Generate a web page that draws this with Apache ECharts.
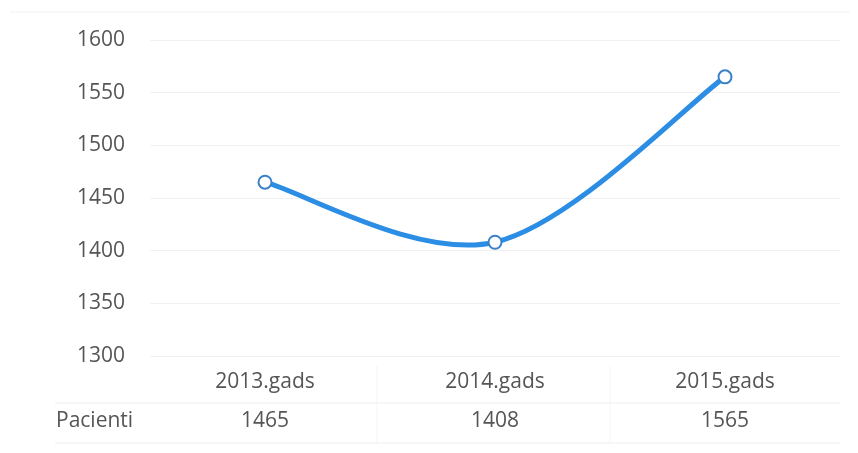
<!DOCTYPE html>
<html>
<head>
<meta charset="utf-8">
<script src="https://cdn.jsdelivr.net/npm/echarts@6/dist/echarts.min.js"></script>
<style>
  html, body { margin: 0; padding: 0; background: #ffffff; }
  #chart { width: 858px; height: 453px; }
</style>
</head>
<body>
<div id="chart"></div>
<script>
// Patient counts per year
const years = ['2013.gads', '2014.gads', '2015.gads'];
const patients = [1465, 1408, 1565];
const rowLabel = 'Pacienti';
const yTicks = [1300, 1350, 1400, 1450, 1500, 1550, 1600];

const FONT = '"Open Sans", Lato, sans-serif';
const FS = 21;
const TEXT = '#555555';
const LINE = '#2b8de3';
const RULE = '#eeeeee';

// Catmull-Rom style smoothing between neighbouring points (in pixel space)
function smoothSegment(api, i) {
  const n = patients.length;
  if (i >= n - 1) return null;
  const p = k => {
    const j = Math.min(Math.max(k, 0), n - 1);
    return api.coord([j, patients[j]]);
  };
  const p0 = p(i - 1), p1 = p(i), p2 = p(i + 1), p3 = p(i + 2);
  const t = 1 / 6;
  return {
    type: 'bezierCurve',
    shape: {
      x1: p1[0], y1: p1[1],
      x2: p2[0], y2: p2[1],
      cpx1: p1[0] + (p2[0] - p0[0]) * t,
      cpy1: p1[1] + (p2[1] - p0[1]) * t,
      cpx2: p2[0] - (p3[0] - p1[0]) * t,
      cpy2: p2[1] - (p3[1] - p1[1]) * t
    },
    style: { stroke: LINE, lineWidth: 5, fill: null, lineCap: 'round' }
  };
}

const chart = echarts.init(document.getElementById('chart'), null, { renderer: 'canvas' });

chart.setOption({
  backgroundColor: '#ffffff',
  animation: false,
  grid: { left: 150, right: 18, top: 40, bottom: 97 },
  xAxis: [
    {
      type: 'category',
      data: years,
      boundaryGap: true,
      axisLine: { show: false },
      axisTick: { show: false },
      axisLabel: { color: TEXT, fontFamily: FONT, fontSize: FS, margin: 16 }
    },
    {
      // data-table row underneath the category names
      type: 'category',
      position: 'bottom',
      offset: 40,
      data: patients.map(String),
      boundaryGap: true,
      axisLine: { show: false },
      axisTick: { show: false },
      axisLabel: { color: TEXT, fontFamily: FONT, fontSize: FS, margin: 15 }
    }
  ],
  yAxis: {
    type: 'value',
    min: yTicks[0],
    max: yTicks[yTicks.length - 1],
    interval: 50,
    axisLine: { show: false },
    axisTick: { show: false },
    axisLabel: {
      color: TEXT, fontFamily: FONT, fontSize: FS, margin: 25,
      formatter: v => String(v)
    },
    splitLine: { lineStyle: { color: '#f1f1f1', width: 1 } }
  },
  series: [
    {
      type: 'custom',
      name: rowLabel,
      data: patients.map((v, i) => [i, v]),
      encode: { x: 0, y: 1 },
      renderItem: (params, api) => smoothSegment(api, params.dataIndex),
      z: 2
    },
    {
      type: 'scatter',
      name: rowLabel,
      data: patients.map((v, i) => [i, v]),
      symbol: 'circle',
      symbolSize: 13,
      itemStyle: { color: '#ffffff', borderColor: '#3a82c8', borderWidth: 2, opacity: 1 },
      z: 3
    }
  ],
  graphic: [
    // table rules
    { type: 'line', shape: { x1: 55, y1: 403, x2: 840, y2: 403 }, style: { stroke: RULE, lineWidth: 1 } },
    { type: 'line', shape: { x1: 55, y1: 443, x2: 840, y2: 443 }, style: { stroke: RULE, lineWidth: 1 } },
    { type: 'line', shape: { x1: 377, y1: 366, x2: 377, y2: 443 }, style: { stroke: '#f5f5f5', lineWidth: 1 } },
    { type: 'line', shape: { x1: 610, y1: 366, x2: 610, y2: 443 }, style: { stroke: '#f5f5f5', lineWidth: 1 } },
    // outer frame hint at the top
    { type: 'line', shape: { x1: 10, y1: 12, x2: 850, y2: 12 }, style: { stroke: '#f3f3f3', lineWidth: 1 } },
    {
      type: 'text',
      left: 56,
      top: 411,
      style: { text: rowLabel, fill: TEXT, font: FS + 'px ' + FONT }
    }
  ]
});
</script>
</body>
</html>
